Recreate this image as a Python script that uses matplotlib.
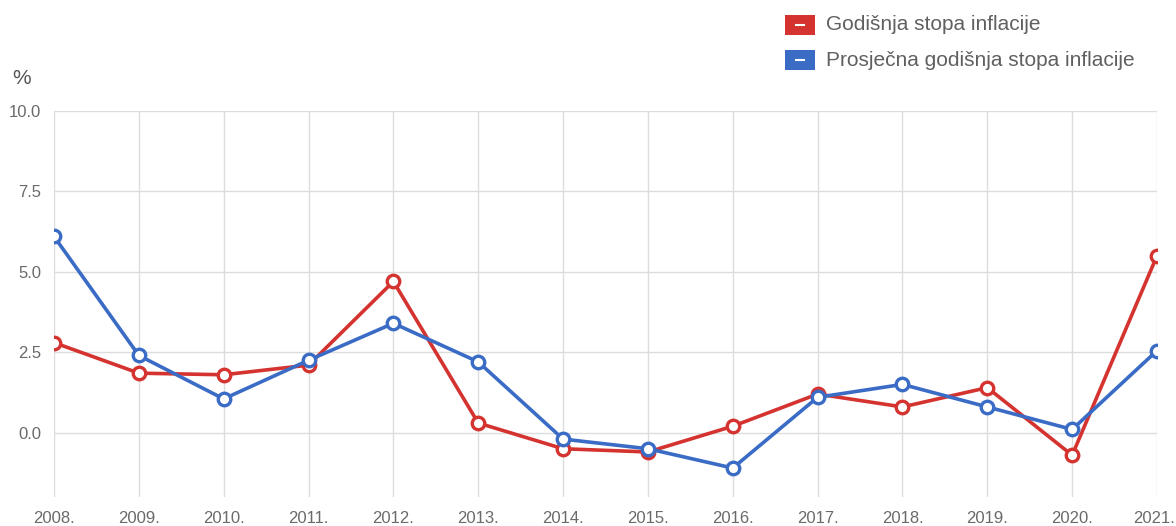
import matplotlib
matplotlib.use("Agg")
import matplotlib.pyplot as plt
from matplotlib.patches import Rectangle
from matplotlib.lines import Line2D
from matplotlib.transforms import ScaledTranslation

years = [2008, 2009, 2010, 2011, 2012, 2013, 2014, 2015, 2016, 2017, 2018, 2019, 2020, 2021]
year_labels = [f"{y}." for y in years]
godisnja = [2.8, 1.85, 1.8, 2.1, 4.7, 0.3, -0.5, -0.6, 0.2, 1.2, 0.8, 1.4, -0.7, 5.5]
prosjecna = [6.1, 2.4, 1.05, 2.25, 3.4, 2.2, -0.2, -0.5, -1.1, 1.1, 1.5, 0.8, 0.1, 2.55]
y_ticks = [0.0, 2.5, 5.0, 7.5, 10.0]
series_names = ["Godišnja stopa inflacije", "Prosječna godišnja stopa inflacije"]

RED = "#d4332f"
BLUE = "#3a6cc6"
GRID = "#dcdcdc"
TXT = "#6a6a6a"

plt.rcParams['font.family'] = ['Liberation Sans', 'DejaVu Sans']
fig = plt.figure(figsize=(11.76, 5.26), dpi=100)
W, H = 1176, 526
ax = fig.add_axes([54 / W, 29 / H, (1157 - 54) / W, (497 - 111) / H])

x = list(range(len(years)))
for vals, col in [(godisnja, RED), (prosjecna, BLUE)]:
    ax.plot(x, vals, color=col, lw=2.6, marker="o", ms=9, mfc="white",
            mec=col, mew=2.4, zorder=3, solid_joinstyle="round")

ax.set_xlim(0, len(years) - 1)
ax.set_ylim(-2, 10)
for xi in x:
    ax.axvline(xi, color=GRID, lw=1, zorder=1)
for yt in y_ticks:
    ax.axhline(yt, color=GRID, lw=1, zorder=1)
for s in ax.spines.values():
    s.set_visible(False)
ax.set_xticks(x)
ax.set_xticklabels(year_labels, color=TXT, fontsize=12)
ax.set_yticks(y_ticks)
ax.set_yticklabels([f"{v:.1f}" for v in y_ticks], color=TXT, fontsize=12)
ax.tick_params(length=0)
ax.tick_params(axis="x", pad=10)
ax.tick_params(axis="y", pad=9)
last = ax.get_xticklabels()[-1]
last.set_transform(last.get_transform() + ScaledTranslation(-3 / 100, 0, fig.dpi_scale_trans))

fig.text(12 / W, 1 - 78 / H, "%", fontsize=15, color="#555555", va="center", ha="left")

# legend
for i, (name, col) in enumerate(zip(series_names, [RED, BLUE])):
    cy = 25 + i * 35
    fig.patches.append(Rectangle((785 / W, 1 - (cy + 10) / H), 30 / W, 20 / H,
                                 transform=fig.transFigure, facecolor=col,
                                 edgecolor="none"))
    fig.lines.append(Line2D([796 / W, 804 / W], [1 - cy / H, 1 - cy / H],
                            transform=fig.transFigure, color="white", lw=1.5))
    fig.text(826 / W, 1 - cy / H, name, fontsize=15, color="#606060",
             va="center", ha="left")

fig.savefig("out.png", dpi=100, facecolor="white")
